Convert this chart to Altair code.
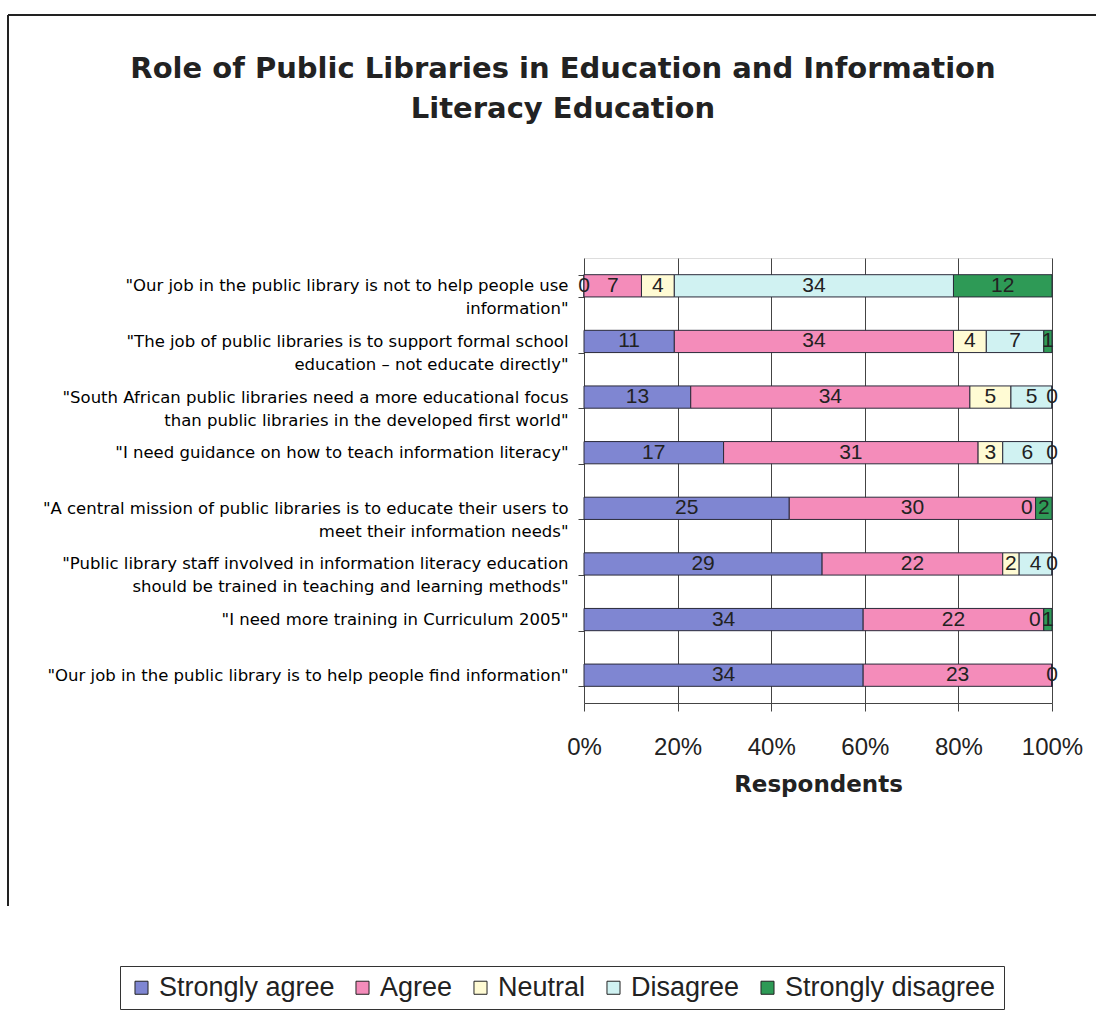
import altair as alt
import pandas as pd

statements = [
    "\"Our job in the public library is not to help people use|information\"",
    "\"The job of public libraries is to support  formal school|education \u2013 not educate directly\"",
    "\"South African public libraries need a more educational focus|than public libraries in the developed first world\"",
    "\"I need guidance on how to teach information literacy\"",
    "\"A central mission of public libraries is to educate their users to|meet their information needs\"",
    "\"Public library staff involved in information literacy education|should be trained in teaching and learning methods\"",
    "\"I need more training in Curriculum  2005\"",
    "\"Our job in the public library is to help people find information\"",
]
responses = ["Strongly agree", "Agree", "Neutral", "Disagree", "Strongly disagree"]
strongly_agree = [0, 11, 13, 17, 25, 29, 34, 34]
agree = [7, 34, 34, 31, 30, 22, 22, 23]
neutral = [4, 4, 5, 3, 0, 2, 0, 0]
disagree = [34, 7, 5, 6, 0, 4, 0, 0]
strongly_disagree = [12, 1, 0, 0, 2, 0, 1, 0]
colors = ["#7f86d2", "#f48cba", "#fffbd4", "#d0f2f2", "#2e9a56"]

series = [strongly_agree, agree, neutral, disagree, strongly_disagree]
rows = []
for i, s in enumerate(statements):
    vals = [ser[i] for ser in series]
    total = sum(vals)
    cum = 0
    prev_zero = False
    for j, (r, v) in enumerate(zip(responses, vals)):
        # one "0" label per position, as the overlapping zeros read in the source
        show = not (v == 0 and prev_zero)
        tight = v == 0 and cum > 0 and any(x > 0 for x in vals[j + 1:])
        rows.append(dict(statement=s, response=r, order=j, count=v,
                         start=cum / total, end=(cum + v) / total,
                         mid=(cum + v / 2) / total, show=show, tight=tight))
        prev_zero = (v == 0)
        cum += v
df = pd.DataFrame(rows)
df_lab = df[df["show"]]
df_lab_center = df_lab[~df_lab["tight"]].drop(columns=["show", "tight"])
df_lab_right = df_lab[df_lab["tight"]].drop(columns=["show", "tight"])
df = df.drop(columns=["show", "tight"])

FONT = "Liberation Sans"
WIDE = "DejaVu Sans"

y_enc = alt.Y(
    "statement:N", sort=statements, title=None,
    scale=alt.Scale(paddingInner=0.6, paddingOuter=0.3),
    axis=alt.Axis(labelExpr="split(datum.label, '|')", labelFontSize=16.5, labelFont=WIDE,
                  labelColor="black", labelAlign="right", labelLimit=700, labelLineHeight=23,
                  labelPadding=10, tickSize=6, tickColor="#444", tickBand="extent", domain=False),
)

bars = alt.Chart(df).mark_bar(stroke="#2a2a3a", strokeWidth=1).encode(
    x=alt.X("start:Q", scale=alt.Scale(domain=[0, 1]),
            axis=alt.Axis(format="%", values=[0, 0.2, 0.4, 0.6, 0.8, 1], labelFontSize=24,
                          labelFont=FONT, labelColor="#222", labelPadding=24, tickSize=8,
                          labelFlush=False,
                          tickColor="#444", domainColor="#444", gridColor="#444",
                          titleFontSize=23, titleFont=WIDE, titleFontWeight="bold",
                          titlePadding=14, titleColor="#222"),
            title="Respondents"),
    x2="end:Q",
    y=y_enc,
    order=alt.Order("order:Q"),
    color=alt.Color("response:N", scale=alt.Scale(domain=responses, range=colors),
                    legend=alt.Legend(orient="none", legendX=-464, legendY=708,
                                      direction="horizontal", title=None,
                                      symbolType="square", symbolSize=170,
                                      symbolStrokeColor="#222", symbolStrokeWidth=1,
                                      labelFontSize=27, labelFont=FONT, labelColor="#222",
                                      labelLimit=400,
                                      strokeColor="#333", padding=8, columnPadding=14)),
)

labels_c = alt.Chart(df_lab_center).mark_text(fontSize=21, font=FONT, color="#222").encode(
    x="mid:Q", y=y_enc, text="count:Q"
)
labels_r = alt.Chart(df_lab_right).mark_text(fontSize=21, font=FONT, color="#222",
                                             align="right", dx=-3).encode(
    x="mid:Q", y=y_enc, text="count:Q"
)

frame_src = pd.DataFrame({"k": [0]})
frame_left = alt.Chart(frame_src).mark_rule(color="#222", strokeWidth=2).encode(
    x=alt.value(-576), y=alt.value(-243), y2=alt.value(648)
)
frame_top = alt.Chart(frame_src).mark_rule(color="#222", strokeWidth=2).encode(
    x=alt.value(-576), x2=alt.value(512), y=alt.value(-243)
)

chart = alt.layer(frame_left, frame_top, bars, labels_c, labels_r).properties(
    width=468, height=445,
    padding={"left": 584, "top": 258, "right": 51, "bottom": 324},
    autosize=alt.AutoSizeParams(type="none"),
    title=alt.Title(
        text=["Role of Public Libraries in Education and Information", "Literacy Education"],
        fontSize=29, font=WIDE, fontWeight="bold", color="#222", anchor="middle",
        frame="group", dx=-255, offset=0, dy=110, lineHeight=40,
    ),
).configure_view(fill="#dcd9e3", stroke="#888").configure(background="white")

chart.save("out.html", embed_options={"renderer": "svg", "actions": False})
